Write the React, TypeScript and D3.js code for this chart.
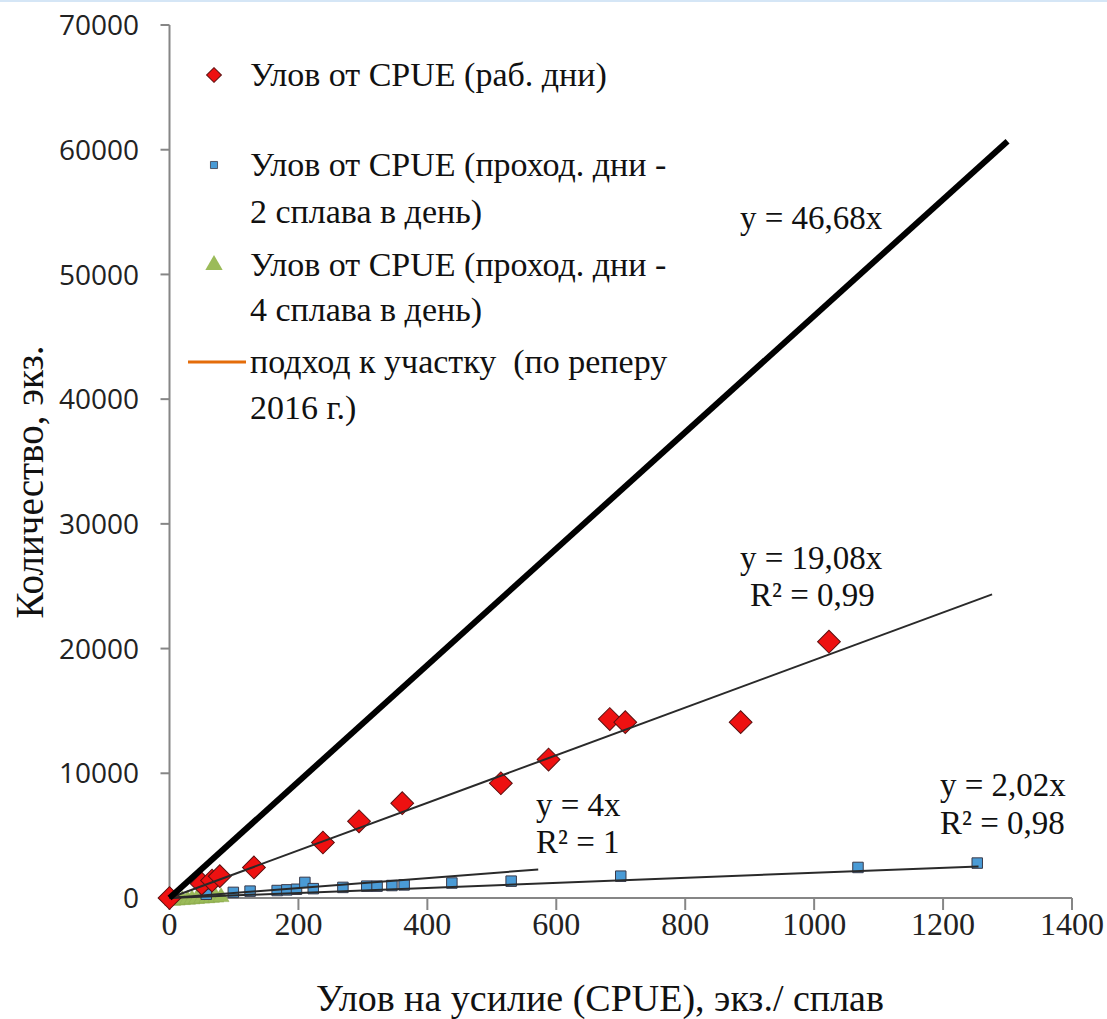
import * as d3 from "d3";

// catch vs CPUE
const redX = [0, 50, 66, 78, 131, 238, 294, 361, 514, 588, 683, 707, 886, 1023];
const redY = [0, 1150, 1400, 1750, 2450, 4450, 6150, 7600, 9200, 11100, 14350, 14100, 14100, 20550];

const blueX = [2, 57, 99, 125, 167, 182, 197, 210, 223, 269, 306, 322, 345, 364, 438, 530, 700, 1068, 1253];
const blueY = [100, 300, 450, 550, 600, 650, 700, 1250, 750, 850, 950, 950, 1000, 1050, 1200, 1350, 1750, 2450, 2800];

const greenX = [5, 12, 20, 28, 35, 42, 50, 58, 65, 72, 80];
const greenY = [20, 50, 80, 110, 140, 170, 200, 230, 260, 290, 320];

// trend lines: slope, last x
const trendSlopes = [19.08, 4, 2.02];
const trendEnds = [1276, 572, 1255];
const bigSlope = 46.68;
const bigEnd = 1300;

const xTicks = [0, 200, 400, 600, 800, 1000, 1200, 1400];
const yTicks = [0, 10000, 20000, 30000, 40000, 50000, 60000, 70000];

const legendLines = [
  "Улов от CPUE (раб. дни)",
  "Улов от CPUE (проход. дни -",
  "2 сплава в день)",
  "Улов от CPUE (проход. дни -",
  "4 сплава в день)",
  "подход к участку  (по реперу",
  "2016 г.)",
];

const serif = "'Liberation Serif', 'Times New Roman', serif";
const sans = "'Open Sans', 'Noto Sans', sans-serif";

const App = () => {
  const W = 1107, H = 1019;
  const x = d3.scaleLinear().domain([0, 1400]).range([169.5, 1072]);
  const y = d3.scaleLinear().domain([0, 70000]).range([898, 25]);

  const line = d3.line<number>().x(d => x(d[0])).y(d => y(d[1]));
  const trend = (k: number, end: number) => line([[0, 0], [end, k * end]] as any);

  const square = d3.symbol().type(d3.symbolSquare);
  const tri = d3.symbol().type(d3.symbolTriangle);

  const legendY = [75, 165, 212, 265, 310, 362, 408];

  return (
    <svg width={W} height={H} style={{ position: "absolute", left: 0, top: 0, background: "#fff" }}>
      <rect x={0} y={0} width={W} height={H} fill="#fff" />
      <line x1={0} x2={W} y1={1} y2={1} stroke="#d5e6f6" strokeWidth={2} />

      {/* axes */}
      <line x1={x(0)} x2={x(0)} y1={y(70000)} y2={y(0)} stroke="#868686" strokeWidth={2} />
      <line x1={x(0)} x2={x(1400)} y1={y(0)} y2={y(0)} stroke="#868686" strokeWidth={2} />
      {yTicks.map(t => (
        <g key={"y" + t}>
          <line x1={x(0) - 9} x2={x(0)} y1={y(t)} y2={y(t)} stroke="#868686" strokeWidth={2} />
          <text x={139} y={y(t)} dy="0.36em" textAnchor="end" fontFamily={sans} fontSize={28} fill="#222">{t}</text>
        </g>
      ))}
      {xTicks.map(t => (
        <g key={"x" + t}>
          <line x1={x(t)} x2={x(t)} y1={y(0)} y2={y(0) + 12} stroke="#868686" strokeWidth={2} />
          <text x={x(t)} y={935} textAnchor="middle" fontFamily={serif} fontSize={32} fill="#222">{t}</text>
        </g>
      ))}

      {/* markers */}
      {greenX.map((v, i) => (
        <path key={"g" + i} d={tri.size(110)()} transform={`translate(${x(v)},${y(greenY[i]) + 3})`} fill="#9bbb59" stroke="#8aa84c" strokeWidth={0.5} />
      ))}
      {blueX.map((v, i) => (
        <path key={"b" + i} d={square.size(110)()} transform={`translate(${x(v)},${y(blueY[i])})`} fill="#4a9bd6" stroke="#3a3a4a" strokeWidth={1} />
      ))}
      {redX.map((v, i) => (
        <path key={"r" + i} d={square.size(260)()} transform={`translate(${x(v)},${y(redY[i])}) rotate(45)`} fill="#ee1111" stroke="#5a1010" strokeWidth={1} />
      ))}

      {/* trend lines */}
      {trendSlopes.map((k, i) => (
        <path key={"t" + i} d={trend(k, trendEnds[i])!} fill="none" stroke="#2a2a2a" strokeWidth={2} />
      ))}
      <path d={trend(bigSlope, bigEnd)!} fill="none" stroke="#000" strokeWidth={6} />

      {/* equation labels */}
      <g fontFamily={serif} fontSize={33} fill="#111">
        <text x={740} y={229}>y = 46,68x</text>
        <text x={740} y={569}>y = 19,08x</text>
        <text x={750} y={606}>R² = 0,99</text>
        <text x={536} y={816}>y = 4x</text>
        <text x={536} y={853}>R² = 1</text>
        <text x={940} y={796}>y = 2,02x</text>
        <text x={940} y={834}>R² = 0,98</text>
      </g>

      {/* legend */}
      <path d={square.size(110)()} transform={`translate(214,${legendY[0]}) rotate(45)`} fill="#ee1111" stroke="#5a1010" strokeWidth={1} />
      <path d={square.size(50)()} transform={`translate(214,${legendY[1]})`} fill="#4a9bd6" stroke="#3a3a4a" strokeWidth={0.8} />
      <path d={tri.size(130)()} transform={`translate(214,${legendY[3]})`} fill="#9bbb59" />
      <line x1={188} x2={246} y1={legendY[5]} y2={legendY[5]} stroke="#e46c0a" strokeWidth={3} />
      <g fontFamily={serif} fontSize={34} fill="#111">
        {legendLines.map((s, i) => (
          <text key={"l" + i} x={250} y={legendY[i]} dy="0.33em" style={{ whiteSpace: "pre" }}>{s}</text>
        ))}
      </g>

      {/* axis titles */}
      <text x={600} y={1011} textAnchor="middle" fontFamily={serif} fontSize={38} fill="#111">Улов на усилие (CPUE), экз./ сплав</text>
      <text transform="translate(43,482) rotate(-90)" textAnchor="middle" fontFamily={serif} fontSize={39} fill="#111">Количество, экз.</text>
    </svg>
  );
};

export default App;
